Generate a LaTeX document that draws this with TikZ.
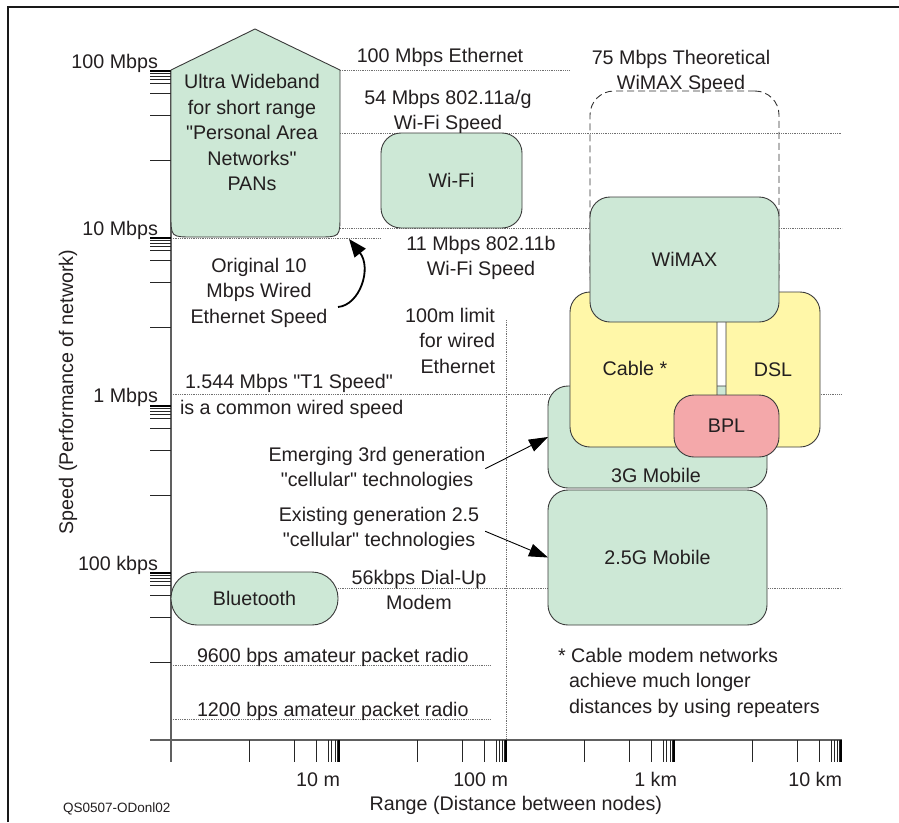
\documentclass[tikz,border=0pt]{standalone}
\usepackage{fontspec}
\setmainfont{Liberation Sans}[Ligatures=TeXOff]
\usetikzlibrary{arrows.meta}
\definecolor{ink}{HTML}{231F20}
\definecolor{boxgreen}{HTML}{CDE8D6}
\definecolor{boxyellow}{HTML}{FFF7A8}
\definecolor{boxpink}{HTML}{F4A8AA}
\definecolor{edgec}{HTML}{3A3A3A}
\definecolor{dotc}{HTML}{707070}
\definecolor{axc}{HTML}{606060}
\begin{document}
\begin{tikzpicture}[x=1pt,y=-1pt,
  every node/.style={inner sep=0pt, outer sep=0pt},
  txt/.style={font=\fontsize{19.7}{25.5}\selectfont, text=ink},
  smalltxt/.style={font=\fontsize{13.5}{16}\selectfont, text=ink},
  dotl/.style={draw=dotc, line width=0.7pt, dash pattern=on 0.9pt off 0.9pt},
  box/.style={draw=edgec, line width=0.9pt, rounded corners=20pt, txt},
  axisl/.style={draw=axc, line width=1.1pt},
  tk/.style={draw=black!85, line width=0.8pt},
  dtk/.style={draw=black, line width=2pt},
  arr/.style={draw=black, line width=0.9pt, -{Triangle[length=19pt,width=13pt]}},
  curv/.style={draw=black, line width=1.8pt, -{Triangle[length=18pt,width=14pt]}},
]
\useasboundingbox (0,0) rectangle (899,822);
\fill[white] (0,0) rectangle (899,822);

% frame
\draw[line width=2.5pt, black!90] (8,822) -- (8,7) -- (899,7);

% dotted reference lines
\draw[dotl] (340,70) -- (569,70);
\draw[dotl] (340,133) -- (842,133);
\draw[dotl] (320,228) -- (842,228);
\draw[dotl] (171,238) -- (381,238);
\draw[dotl] (171,394) -- (842,394);
\draw[dotl] (338,588) -- (842,588);
\draw[dotl] (171,665) -- (490,665);
\draw[dotl] (171,719) -- (490,719);
\draw[dotl] (506,320) -- (506,740);

% axes
\draw[axisl] (171,70) -- (171,762);
\draw[axisl] (150,740) -- (842,740);
\foreach \d in {71,238,406,573}{
  \draw[dtk] (150,\d) -- (171,\d);
  \foreach \o in {2.5,5,8,12,22,44,89}{\draw[tk] (150,\d+\o) -- (171,\d+\o);}
}
\foreach \d in {338.5,506,673.5,841}{
  \draw[dtk] (\d,740) -- (\d,762);
  \foreach \o in {1.5,3.5,7,10,22,44,89}{\draw[tk] (\d-\o,740) -- (\d-\o,762);}
}

% axis labels
\node[txt, anchor=base east] (y100M) at (158,68) {100 Mbps};
\node[txt, anchor=base east] (y10M) at (158,235) {10 Mbps};
\node[txt, anchor=base east] (y1M) at (158,402) {1 Mbps};
\node[txt, anchor=base east] (y100k) at (158,570) {100 kbps};
\node[txt, rotate=90] (ytitle) at (68,392) {Speed (Performance of network)};
\node[txt, anchor=base east] (x10m) at (340,786) {10 m};
\node[txt, anchor=base east] (x100m) at (508,786) {100 m};
\node[txt, anchor=base east] (x1km) at (677,786) {1 km};
\node[txt, anchor=base east] (x10km) at (842,786) {10 km};
\node[txt, anchor=base east] (xtitle) at (662,810) {Range (Distance between nodes)};
\node[smalltxt, anchor=base west] (qs) at (63,812) {QS0507-ODonl02};

% Ultra wideband house
\draw[draw=edgec, line width=0.9pt, fill=boxgreen] (171,70) -- (255,29) -- (340,70) -- (340,215)
  .. controls (340,237) .. (318,237) -- (193,237) .. controls (171,237) .. (171,215) -- cycle;
\node[txt, align=center, anchor=north] (uwb) at (252,88.5-17.85)
  {\strut Ultra Wideband\\for short range\\"Personal Area\\Networks"\\\strut PANs};

% Wi-Fi and Bluetooth
\node[box, fill=boxgreen, minimum width=141pt, minimum height=95pt] (wifi) at (451.5,180.5) {Wi-Fi};
\node[box, fill=boxgreen, rounded corners=26pt, minimum width=167pt, minimum height=53pt] (bt) at (254.5,598.5) {Bluetooth};

% text labels
\node[txt, anchor=base] (eth100) at (440,62) {100 Mbps Ethernet};
\node[txt, align=center, anchor=north] (wifi54) at (448,104-17.85) {\strut 54 Mbps 802.11a/g\\\strut Wi-Fi Speed};
\node[txt, align=center, anchor=north] (wifi11) at (481,250-17.85) {\strut 11 Mbps 802.11b\\\strut Wi-Fi Speed};
\node[txt, align=center, anchor=north] (wimax75) at (681,64-17.85) {\strut 75 Mbps Theoretical\\\strut WiMAX Speed};
\node[txt, align=center, anchor=north] (orig10) at (259,272-17.85) {\strut Original 10\\Mbps Wired\\\strut Ethernet Speed};
\node[txt, align=right, anchor=north east] (lim100) at (495,322-17.85) {\strut 100m limit\\for wired\\\strut Ethernet};
\node[txt, anchor=base west] (t1a) at (185,388) {1.544 Mbps "T1 Speed"};
\node[txt, anchor=base west] (t1b) at (180,414) {is a common wired speed};
\node[txt, align=center, anchor=north] (em3g) at (377,461-17.85) {\strut Emerging 3rd generation\\\strut "cellular" technologies};
\node[txt, align=center, anchor=north] (ex25) at (379,521-17.85) {\strut Existing generation 2.5\\\strut "cellular" technologies};
\node[txt, align=center, anchor=north] (dial) at (419,584-17.85) {\strut 56kbps Dial-Up\\\strut Modem};
\node[txt, anchor=base west] (r9600) at (197,662) {9600 bps amateur packet radio};
\node[txt, anchor=base west] (r1200) at (197,716) {1200 bps amateur packet radio};
\node[txt, align=left, anchor=north west] (note) at (558,662-17.85)
  {\strut * Cable modem networks\\\hspace*{11pt}achieve much longer\\\strut\hspace*{11pt}distances by using repeaters};

% right-hand boxes
\node[draw=black!80, line width=0.9pt, dash pattern=on 7pt off 4pt, rounded corners=24pt,
  minimum width=189pt, minimum height=209pt] (wimaxd) at (684.5,195.5) {};
\node[box, fill=boxgreen, minimum width=219pt, minimum height=102pt] (g3) at (657.5,437) {};
\node[box, fill=boxgreen, minimum width=219pt, minimum height=135pt] (g25) at (657.5,557.5) {2.5G Mobile};
\node[box, fill=boxyellow, minimum width=147pt, minimum height=155pt] (cable) at (643.5,369.5) {};
\node[box, fill=boxyellow, minimum width=94pt, minimum height=155pt] (dsl) at (773,369.5) {DSL};
\node[box, fill=boxgreen, minimum width=189pt, minimum height=125pt] (wimax) at (684.5,259.5) {WiMAX};
\node[box, fill=boxpink, minimum width=105pt, minimum height=62pt] (bpl) at (726.5,426) {BPL};
\node[txt] (cablet) at (635,368) {Cable *};
\node[txt] (g3t) at (656,475) {3G Mobile};

% arrows
\draw[arr] (em3g.east) -- (g3.west);
\draw[arr] ([xshift=6pt,yshift=-2.6pt]ex25.east) -- (g25.west);
\coordinate (o10s) at (338,307);
\coordinate (o10t) at (349,239);
\draw[curv] (o10s) .. controls (360,305) and (372,268) .. (o10t);
\end{tikzpicture}
\end{document}
